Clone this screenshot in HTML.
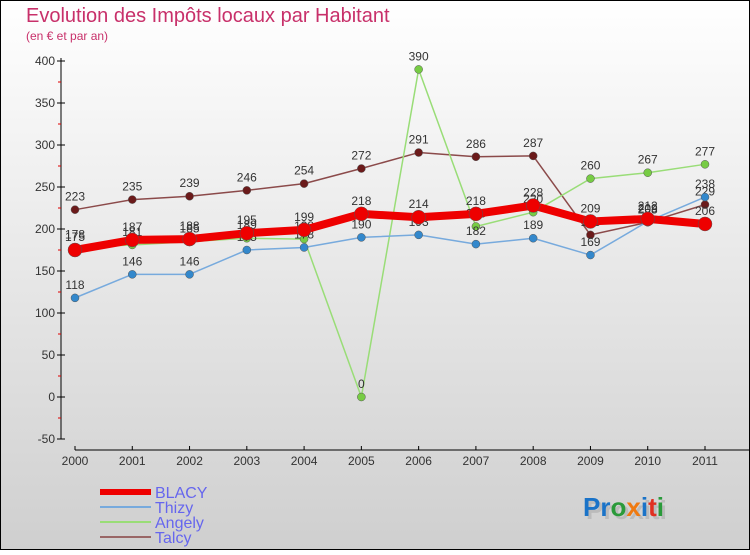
<!DOCTYPE html>
<html><head><meta charset="utf-8"><style>
html,body{margin:0;padding:0}
body{width:750px;height:550px;overflow:hidden}
svg text{font-family:"Liberation Sans",sans-serif}
</style></head><body>
<svg id="chart" width="750" height="550" xmlns="http://www.w3.org/2000/svg">
<defs><linearGradient id="bg" x1="0" y1="0" x2="0" y2="1"><stop offset="0" stop-color="#ffffff"/><stop offset="1" stop-color="#cfcfcf"/></linearGradient></defs>
<rect x="0.5" y="0.5" width="749" height="549" fill="url(#bg)" stroke="#000"/>
<text x="26" y="22" font-size="20" fill="#c8306a">Evolution des Impôts locaux par Habitant</text>
<text x="26" y="40" font-size="12" fill="#c8306a">(en € et par an)</text>
<g id="axes"></g>
<g id="series"></g>
<g id="legend"></g>
<text x="586" y="519" font-size="26" font-weight="bold" fill="#bbb">Proxiti</text>
<text x="583" y="516" font-size="26" font-weight="bold"><tspan fill="#1a73c8">Pr</tspan><tspan fill="#2a9a3a">o</tspan><tspan fill="#f07a10">x</tspan><tspan fill="#1a73c8">i</tspan><tspan fill="#e03020">t</tspan><tspan fill="#2a9a3a">i</tspan></text>
</svg>
<script>
const years=["2000","2001","2002","2003","2004","2005","2006","2007","2008","2009","2010","2011"];
const blacy=[175,187,188,195,199,218,214,218,228,209,212,206];
const thizy=[118,146,146,175,178,190,193,182,189,169,209,238];
const angely=[178,181,185,189,188,0,390,203,220,260,267,277];
const talcy=[223,235,239,246,254,272,291,286,287,193,208,229];
const yTicks=[-50,0,50,100,150,200,250,300,350,400];
const NS="http://www.w3.org/2000/svg";
const X0=75,X1=705,Y0=397,PX=0.84;
const xs=i=>X0+i*(X1-X0)/(years.length-1);
const ys=v=>Y0-v*PX;
function mk(t,a,p){const e=document.createElementNS(NS,t);for(const k in a)e.setAttribute(k,a[k]);p.appendChild(e);return e;}
const ax=document.getElementById('axes');
let yl=mk('line',{x1:61,y1:ys(400)-3,x2:61,y2:ys(-50),stroke:'#000'},ax);


yTicks.forEach(v=>{
 let t=mk('line',{x1:57,x2:65,y1:ys(v),y2:ys(v),stroke:'#000'},ax);
 
 
 if(v<400){let m=mk('line',{x1:58,x2:61,y1:ys(v+25),y2:ys(v+25),stroke:'#e00000'},ax);
 
 }
 let l=mk('text',{x:55,y:ys(v)+4,'text-anchor':'end','font-size':12,fill:'#333'},ax);l.textContent=v;
 
 
});
let xl=mk('line',{x1:75,x2:750,y1:450,y2:450,stroke:'#000'},ax);


years.forEach((y,i)=>{
 let t=mk('line',{x1:xs(i),x2:xs(i),y1:446,y2:450,stroke:'#000'},ax);
 
 
 let l=mk('text',{x:xs(i),y:465,'text-anchor':'middle','font-size':12,fill:'#333'},ax);l.textContent=y;
 
 
});
const sg=document.getElementById('series');
const defs=[
 {n:'talcy',d:talcy,c:'#8b4a4a',dot:'#6b1a1a',w:1.5,r:4},
 {n:'angely',d:angely,c:'#99dd77',dot:'#77cc44',w:1.5,r:4},
 {n:'thizy',d:thizy,c:'#77aadd',dot:'#3388cc',w:1.5,r:4},
 {n:'blacy',d:blacy,c:'#ee0000',dot:'#ee0000',w:8,r:7}
];
defs.forEach(s=>{
 const g=mk('g',{},sg);
 
 
 let p=mk('polyline',{points:s.d.map((v,i)=>xs(i)+','+ys(v)).join(' '),fill:'none',stroke:s.c,'stroke-width':s.w,'stroke-linejoin':'round'},g);
 
 
 s.d.forEach((v,i)=>{
  let c=mk('circle',{cx:xs(i),cy:ys(v),r:s.r,fill:s.dot,stroke:'#555','stroke-width':0.5},g);
  
  
  let t=mk('text',{x:xs(i),y:ys(v)-9,'text-anchor':'middle','font-size':12,fill:'#333'},g);t.textContent=v;
  
  
 });
});
const lg=document.getElementById('legend');
const items=[['BLACY','#ee0000',6],['Thizy','#77aadd',2],['Angely','#99dd77',2],['Talcy','#996666',2]];
items.forEach((it,i)=>{
 const y=492+i*15;
 let l=mk('line',{x1:100,x2:151,y1:y,y2:y,stroke:it[1],'stroke-width':it[2]},lg);
 
 
 let t=mk('text',{x:155,y:y+6,'font-size':16,fill:'#6666ee'},lg);t.textContent=it[0];
 
 
});
</script>
</body></html>
